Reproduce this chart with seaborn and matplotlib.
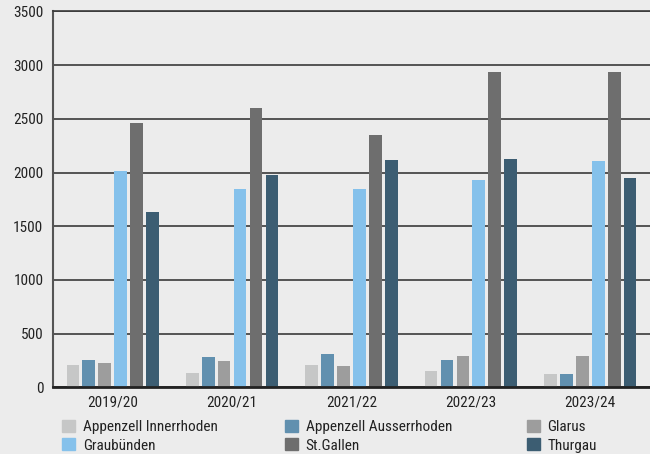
import numpy as np
import pandas as pd
import matplotlib
matplotlib.use('Agg')
import matplotlib.pyplot as plt
import matplotlib.patches as mpatches
import seaborn as sns

# -----------------------

years = ['2019/20', '2020/21', '2021/22', '2022/23', '2023/24']
cantons = ['Appenzell Innerrhoden', 'Appenzell Ausserrhoden', 'Glarus',
	'Graubünden', 'St.Gallen', 'Thurgau']

appenzell_ir = [209, 135, 209, 153, 125]
appenzell_ar = [256, 283, 311, 256, 125]
glarus = [228, 246, 200, 293, 293]
graubuenden = [2012, 1845, 1845, 1928, 2105]
st_gallen = [2458, 2597, 2347, 2932, 2932]
thurgau = [1631, 1975, 2114, 2124, 1947]

colors = ['#c6c7c7', '#6190af', '#9d9d9d', '#85c1eb', '#6e6e6e', '#3c5d72']

# -----------------------

series = [appenzell_ir, appenzell_ar, glarus, graubuenden, st_gallen, thurgau]
rows = []
for name, vals in zip(cantons, series):
	for yr, v in zip(years, vals):
		rows.append({'year': yr, 'canton': name, 'value': v})
df = pd.DataFrame(rows)

sns.set_style('white')
bg = '#ececec'
plt.rcParams['font.family'] = ['Liberation Sans Narrow', 'Roboto Condensed',
	'Liberation Sans', 'DejaVu Sans']
plt.rcParams['text.color'] = '#222222'
plt.rcParams['xtick.color'] = '#222222'
plt.rcParams['ytick.color'] = '#222222'

fig = plt.figure(figsize=(6.5, 4.54), dpi=100, facecolor=bg)
ax = fig.add_axes([0.0815, 0.1465, 0.9185, 0.8287])
ax.set_facecolor(bg)

sns.barplot(data=df, x='year', y='value', hue='canton', hue_order=cantons,
	palette=colors, width=0.8, gap=0.2, saturation=1, linewidth=0,
	ax=ax, legend=False)

ax.set_ylim(0, 3500)
ax.set_xlim(-0.5, 4.5)
ax.set_yticks(np.arange(0, 3501, 500))
ax.set(xlabel='', ylabel='')
ax.tick_params(axis='both', length=0, labelsize=11)
ax.tick_params(axis='x', pad=6)
ax.tick_params(axis='y', pad=7)

ax.yaxis.grid(True, color='#3a3a3a', lw=1.2)
ax.set_axisbelow(True)
ax.spines['right'].set_visible(False)
ax.spines['top'].set_color('#3a3a3a')
ax.spines['top'].set_linewidth(1.2)
ax.spines['left'].set_color('#555555')
ax.spines['left'].set_linewidth(1.5)
ax.spines['bottom'].set_color('#222222')
ax.spines['bottom'].set_linewidth(2)

# legend: three columns placed at fixed positions
handles = [mpatches.Patch(color=c, label=n) for c, n in zip(colors, cantons)]
col_x = [62 / 650, 285 / 650, 527 / 650]
for i, x0 in enumerate(col_x):
	hs = [handles[i], handles[i + 3]]
	fig.legend(handles=hs, loc='upper left', bbox_to_anchor=(x0, 1 - 420 / 454),
		frameon=False, fontsize=11, handlelength=0.85, handleheight=0.85,
		handletextpad=0.5, labelspacing=0.25, borderaxespad=0, borderpad=0)

plt.savefig('out.png', dpi=100, facecolor=bg)
